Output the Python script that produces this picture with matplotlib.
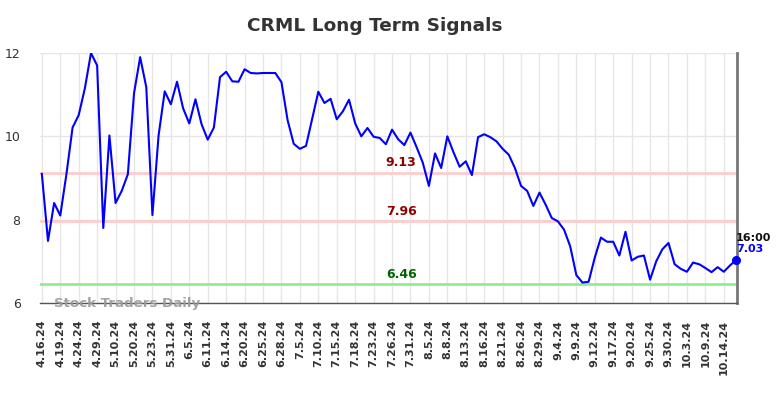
import matplotlib
matplotlib.use("Agg")
import matplotlib.pyplot as plt
import numpy as np

tick_labels = ["4.16.24", "4.19.24", "4.24.24", "4.29.24", "5.10.24", "5.20.24", "5.23.24",
               "5.31.24", "6.5.24", "6.11.24", "6.14.24", "6.20.24", "6.25.24", "6.28.24",
               "7.5.24", "7.10.24", "7.15.24", "7.18.24", "7.23.24", "7.26.24", "7.31.24",
               "8.5.24", "8.8.24", "8.13.24", "8.16.24", "8.21.24", "8.26.24", "8.29.24",
               "9.4.24", "9.9.24", "9.12.24", "9.17.24", "9.20.24", "9.25.24", "9.30.24",
               "10.3.24", "10.9.24", "10.14.24"]

prices = [9.10, 7.49, 8.40, 8.10, 9.09, 10.21, 10.51, 11.15, 12.00, 11.70,
          7.80, 10.02, 8.40, 8.69, 9.09, 11.03, 11.90, 11.18, 8.11, 10.02,
          11.08, 10.77, 11.31, 10.67, 10.31, 10.89, 10.29, 9.92, 10.21, 11.42,
          11.55, 11.32, 11.31, 11.61, 11.52, 11.51, 11.52, 11.52, 11.52, 11.30,
          10.39, 9.82, 9.70, 9.77, 10.42, 11.07, 10.80, 10.90, 10.41, 10.60,
          10.88, 10.31, 10.00, 10.20, 9.99, 9.96, 9.81, 10.16, 9.93, 9.79,
          10.09, 9.74, 9.37, 8.81, 9.59, 9.24, 10.00, 9.62, 9.27, 9.40,
          9.07, 9.98, 10.05, 9.98, 9.88, 9.70, 9.56, 9.24, 8.81, 8.69,
          8.33, 8.65, 8.36, 8.04, 7.96, 7.76, 7.36, 6.67, 6.49, 6.51,
          7.09, 7.57, 7.47, 7.47, 7.14, 7.71, 7.02, 7.11, 7.14, 6.56,
          7.00, 7.29, 7.44, 6.93, 6.82, 6.75, 6.97, 6.93, 6.84, 6.74,
          6.86, 6.75, 6.90, 7.03]

levels = [9.13, 7.96, 6.46]
level_colors = ["#ffcccc", "#ffcccc", "#90ee90"]
level_text_colors = ["#8b0000", "#8b0000", "#006400"]
last_time = "16:00"

fig = plt.figure(figsize=(7.84, 3.98), dpi=100)
ax = fig.add_axes([40/784, 95/398, 697/784, 250/398])

x = np.arange(len(prices))
tick_pos = np.arange(0, 3*len(tick_labels), 3)

ax.set_xlim(-0.3, len(prices) - 1 + 0.15)
ax.set_ylim(6, 12)

ax.set_xticks(tick_pos)
ax.set_xticklabels(tick_labels, rotation=90, fontsize=8, fontweight="bold", color="#333333")
ax.set_yticks([6, 8, 10, 12])
ax.set_yticklabels(["6", "8", "10", "12"], fontsize=9, color="#333333")
ax.tick_params(axis="both", length=0)
ax.tick_params(axis="y", pad=14)
ax.tick_params(axis="x", pad=12)

ax.grid(True, color="#e6e6e6", linewidth=1)
ax.set_axisbelow(True)
for s in ["left", "top"]:
    ax.spines[s].set_visible(False)
ax.spines["bottom"].set_color("#555555")
ax.spines["bottom"].set_linewidth(1)
ax.spines["right"].set_color("#777777")
ax.spines["right"].set_linewidth(2)

for lv, c, tc in zip(levels, level_colors, level_text_colors):
    ax.axhline(lv, color=c, linewidth=2, zorder=1)
    ax.text(58.5, lv + 0.08, f"{lv:.2f}", color=tc, fontsize=9, fontweight="bold",
            ha="center", va="bottom")

ax.plot(x, prices, color="#0000ff", linewidth=1.5, zorder=3)
ax.plot(x[-1], prices[-1], "o", color="#0000ff", markersize=5.5, zorder=4, clip_on=False)

ax.text(x[-1], prices[-1] + 0.42, last_time, fontsize=8, fontweight="bold", color="#111111",
        ha="left", va="bottom")
ax.text(x[-1], prices[-1] + 0.14, f"{prices[-1]:.2f}", fontsize=8, fontweight="bold",
        color="#0000ff", ha="left", va="bottom")

ax.text(2, 6.0, "Stock Traders Daily", fontsize=9.6, fontweight="bold", color="#999999",
        alpha=0.9, ha="left", va="center", zorder=5)

fig.suptitle("CRML Long Term Signals", x=375/784, y=1 - 26/398, fontsize=13.3,
             fontweight="bold", color="#333333", va="center")

fig.savefig("out.png", dpi=100)
